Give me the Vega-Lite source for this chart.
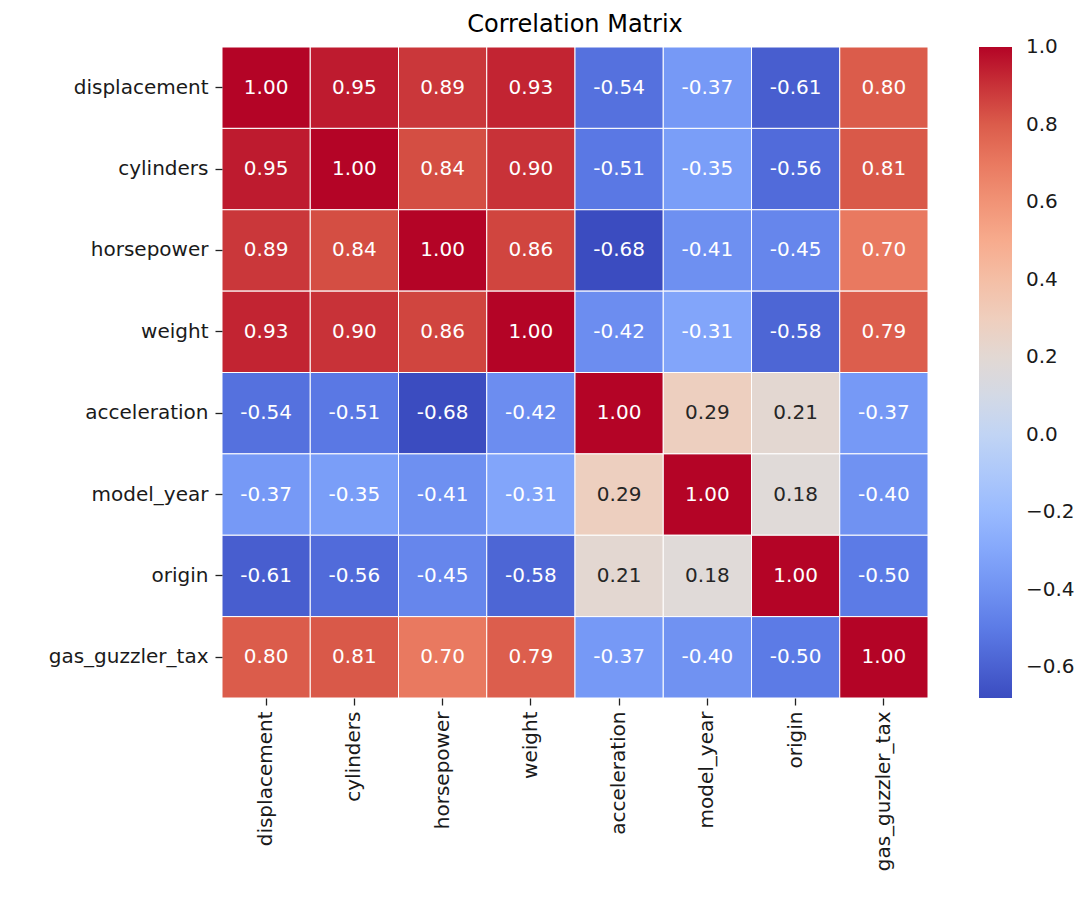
{
  "$schema": "https://vega.github.io/schema/vega-lite/v6.json",
  "autosize": {"type": "none"},
  "padding": {"left": 222, "top": 47, "right": 152, "bottom": 202},
  "width": 706,
  "height": 651,
  "background": "white",
  "title": {"text": "Correlation Matrix", "font": "DejaVu Sans", "fontSize": 24, "fontWeight": "normal", "color": "black", "offset": 10},
  "config": {"view": {"stroke": null}, "font": "DejaVu Sans"},
  "data": {"values": [
    {"r": "displacement", "c": "displacement", "v": 1.00},
    {"r": "displacement", "c": "cylinders", "v": 0.95},
    {"r": "displacement", "c": "horsepower", "v": 0.89},
    {"r": "displacement", "c": "weight", "v": 0.93},
    {"r": "displacement", "c": "acceleration", "v": -0.54},
    {"r": "displacement", "c": "model_year", "v": -0.37},
    {"r": "displacement", "c": "origin", "v": -0.61},
    {"r": "displacement", "c": "gas_guzzler_tax", "v": 0.80},
    {"r": "cylinders", "c": "displacement", "v": 0.95},
    {"r": "cylinders", "c": "cylinders", "v": 1.00},
    {"r": "cylinders", "c": "horsepower", "v": 0.84},
    {"r": "cylinders", "c": "weight", "v": 0.90},
    {"r": "cylinders", "c": "acceleration", "v": -0.51},
    {"r": "cylinders", "c": "model_year", "v": -0.35},
    {"r": "cylinders", "c": "origin", "v": -0.56},
    {"r": "cylinders", "c": "gas_guzzler_tax", "v": 0.81},
    {"r": "horsepower", "c": "displacement", "v": 0.89},
    {"r": "horsepower", "c": "cylinders", "v": 0.84},
    {"r": "horsepower", "c": "horsepower", "v": 1.00},
    {"r": "horsepower", "c": "weight", "v": 0.86},
    {"r": "horsepower", "c": "acceleration", "v": -0.68},
    {"r": "horsepower", "c": "model_year", "v": -0.41},
    {"r": "horsepower", "c": "origin", "v": -0.45},
    {"r": "horsepower", "c": "gas_guzzler_tax", "v": 0.70},
    {"r": "weight", "c": "displacement", "v": 0.93},
    {"r": "weight", "c": "cylinders", "v": 0.90},
    {"r": "weight", "c": "horsepower", "v": 0.86},
    {"r": "weight", "c": "weight", "v": 1.00},
    {"r": "weight", "c": "acceleration", "v": -0.42},
    {"r": "weight", "c": "model_year", "v": -0.31},
    {"r": "weight", "c": "origin", "v": -0.58},
    {"r": "weight", "c": "gas_guzzler_tax", "v": 0.79},
    {"r": "acceleration", "c": "displacement", "v": -0.54},
    {"r": "acceleration", "c": "cylinders", "v": -0.51},
    {"r": "acceleration", "c": "horsepower", "v": -0.68},
    {"r": "acceleration", "c": "weight", "v": -0.42},
    {"r": "acceleration", "c": "acceleration", "v": 1.00},
    {"r": "acceleration", "c": "model_year", "v": 0.29},
    {"r": "acceleration", "c": "origin", "v": 0.21},
    {"r": "acceleration", "c": "gas_guzzler_tax", "v": -0.37},
    {"r": "model_year", "c": "displacement", "v": -0.37},
    {"r": "model_year", "c": "cylinders", "v": -0.35},
    {"r": "model_year", "c": "horsepower", "v": -0.41},
    {"r": "model_year", "c": "weight", "v": -0.31},
    {"r": "model_year", "c": "acceleration", "v": 0.29},
    {"r": "model_year", "c": "model_year", "v": 1.00},
    {"r": "model_year", "c": "origin", "v": 0.18},
    {"r": "model_year", "c": "gas_guzzler_tax", "v": -0.40},
    {"r": "origin", "c": "displacement", "v": -0.61},
    {"r": "origin", "c": "cylinders", "v": -0.56},
    {"r": "origin", "c": "horsepower", "v": -0.45},
    {"r": "origin", "c": "weight", "v": -0.58},
    {"r": "origin", "c": "acceleration", "v": 0.21},
    {"r": "origin", "c": "model_year", "v": 0.18},
    {"r": "origin", "c": "origin", "v": 1.00},
    {"r": "origin", "c": "gas_guzzler_tax", "v": -0.50},
    {"r": "gas_guzzler_tax", "c": "displacement", "v": 0.80},
    {"r": "gas_guzzler_tax", "c": "cylinders", "v": 0.81},
    {"r": "gas_guzzler_tax", "c": "horsepower", "v": 0.70},
    {"r": "gas_guzzler_tax", "c": "weight", "v": 0.79},
    {"r": "gas_guzzler_tax", "c": "acceleration", "v": -0.37},
    {"r": "gas_guzzler_tax", "c": "model_year", "v": -0.40},
    {"r": "gas_guzzler_tax", "c": "origin", "v": -0.50},
    {"r": "gas_guzzler_tax", "c": "gas_guzzler_tax", "v": 1.00}
  ]},
  "transform": [
    {"calculate": "replace(format(datum.v, '.2f'), '\u2212', '-')", "as": "label"}
  ],
  "encoding": {
    "x": {"field": "c", "type": "nominal", "sort": null, "title": null,
      "scale": {"paddingInner": 0, "paddingOuter": 0},
      "axis": {"orient": "bottom", "labelAngle": -90, "labelFontSize": 20, "labelColor": "#1a1a1a", "labelFont": "DejaVu Sans", "domain": false, "ticks": true, "tickSize": 7, "tickColor": "#222", "tickWidth": 1.3, "labelPadding": 6}},
    "y": {"field": "r", "type": "nominal", "sort": null, "title": null,
      "scale": {"paddingInner": 0, "paddingOuter": 0},
      "axis": {"labelFontSize": 20, "labelColor": "#1a1a1a", "labelFont": "DejaVu Sans", "domain": false, "ticks": true, "tickSize": 7, "tickColor": "#222", "tickWidth": 1.3, "labelPadding": 7}}
  },
  "layer": [
    {
      "mark": {"type": "rect", "stroke": "white", "strokeWidth": 1},
      "encoding": {
        "color": {"field": "v", "type": "quantitative",
          "scale": {"domain": [-0.68, -0.512, -0.344, -0.176, -0.008, 0.16, 0.328, 0.496, 0.664, 0.832, 1.0],
            "range": ["#3b4cc0", "#5a78e4", "#7b9ff9", "#9ebeff", "#c0d4f5", "#dddcdc", "#f2cbb7", "#f7ac8e", "#ee8468", "#d65244", "#b40426"],
            "interpolate": "rgb"},
          "legend": {"orient": "none", "legendX": 757, "legendY": 0, "direction": "vertical", "title": null,
            "gradientLength": 651, "gradientThickness": 33, "gradientStrokeWidth": 0,
            "values": [-0.6, -0.4, -0.2, 0.0, 0.2, 0.4, 0.6, 0.8, 1.0], "format": ".1f",
            "labelFontSize": 20, "labelColor": "#1a1a1a", "labelFont": "DejaVu Sans", "labelOffset": 14, "labelOverlap": false, "labelBaseline": "middle", "padding": 0,
            "encode": {"labels": {"update": {"baseline": {"value": "middle"}}}}}}
      }
    },
    {
      "mark": {"type": "text", "fontSize": 20, "font": "DejaVu Sans"},
      "encoding": {
        "text": {"field": "label", "type": "nominal"},
        "color": {"condition": {"test": "datum.v > 0 && datum.v < 0.5", "value": "#262626"}, "value": "white"}
      }
    }
  ]
}
